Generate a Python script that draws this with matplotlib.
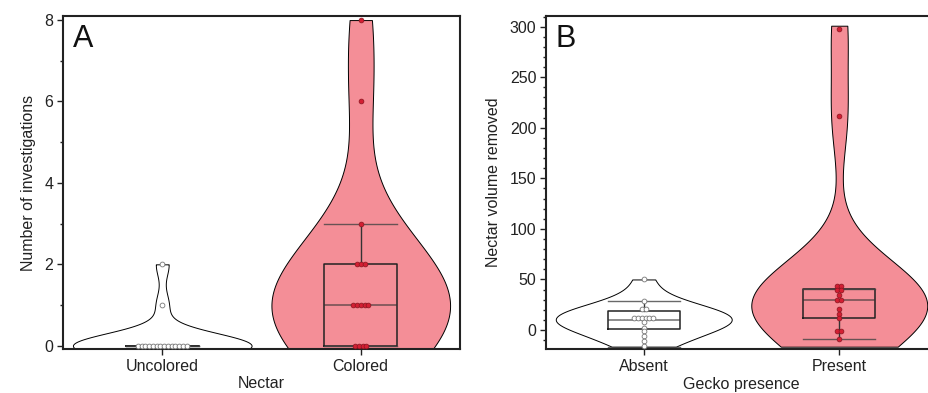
import numpy as np
import matplotlib.pyplot as plt
from matplotlib.ticker import MultipleLocator

plt.rcParams['font.family'] = ['Liberation Sans', 'DejaVu Sans']

# ---- data ----
# panel A: number of investigations
nectar_labels = ['Uncolored', 'Colored']
uncolored = [0] * 14 + [1, 2]
colored = [0, 0, 0, 0, 1, 1, 1, 1, 1, 2, 2, 2, 3, 6, 8]
# box stats (whislo, q1, med, q3, whishi)
box_a = [[0, 0, 0, 0, 0], [0, 0, 1, 2, 3]]
# violin extent (lo, hi)
range_a = [[-0.06, 2], [-0.06, 8]]

# panel B: nectar volume removed
gecko_labels = ['Absent', 'Present']
absent = [50, 29, 21, 21, 12, 12, 12, 12, 12, 12, 8, 2, -1, -6, -11, -16]
present = [298, 212, 44, 44, 40, 40, 35, 30, 30, 21, 16, 12, -1, -1, -9]
box_b = [[-16.5, 1, 10, 19, 28.5], [-9, 11.5, 30, 41, 41]]
range_b = [[-16.5, 50], [-16.5, 301]]

# kde bandwidth tweak per violin (multiplier on scott's rule)
bw_a = [1.0, 1.0]
bw_b = [1.35, 0.82]

pink = '#F48E97'
dot_red = '#D31F33'


def kde(vals, grid, adj):
    vals = np.asarray(vals, float)
    bw = adj * vals.std(ddof=1) * len(vals) ** (-1 / 5)
    z = (grid[:, None] - vals[None, :]) / bw
    return np.exp(-0.5 * z ** 2).sum(axis=1)


def swarm_x(vals, step):
    vals = np.asarray(vals, float)
    xs = np.zeros(len(vals))
    for v in np.unique(vals):
        idx = np.where(vals == v)[0]
        k = len(idx)
        xs[idx] = (np.arange(k) - (k - 1) / 2) * step
    return xs


def panel(ax, groups, labels, boxes, ranges, bws, fills, dot_style, step):
    for i, (vals, rng, adj, fc) in enumerate(zip(groups, ranges, bws, fills)):
        grid = np.linspace(rng[0], rng[1], 300)
        d = kde(vals, grid, adj)
        half = d / d.max() * 0.45
        ax.fill_betweenx(grid, i - half, i + half, facecolor=fc,
                         edgecolor='black', linewidth=0.7, zorder=1)
    stats = []
    for b in boxes:
        stats.append(dict(whislo=b[0], q1=b[1], med=b[2], q3=b[3], whishi=b[4], fliers=[]))
    ax.bxp(stats, positions=range(len(boxes)), widths=0.37, capwidths=0.37,
           showfliers=False, patch_artist=False,
           boxprops=dict(color='#222222', linewidth=1.1),
           medianprops=dict(color='#333333', alpha=0.7, linewidth=1.1),
           whiskerprops=dict(color='#333333', linewidth=1.0),
           capprops=dict(color='#444444', alpha=0.8, linewidth=1.0),
           manage_ticks=False, zorder=2)
    for i, vals in enumerate(groups):
        xs = swarm_x(vals, step) + i
        ax.scatter(xs, vals, s=12, zorder=3, **dot_style[i])
    ax.set_xlim(-0.5, 1.5)
    ax.set_xticks(range(len(labels)))
    ax.set_xticklabels(labels)
    for sp in ax.spines.values():
        sp.set_linewidth(1.5)
        sp.set_color('#222222')
    ax.tick_params(which='major', length=4, width=1, labelsize=11.5, colors='#222222', pad=3)
    ax.tick_params(which='minor', length=2.5, width=1, colors='#222222')
    ax.tick_params(axis='x', which='minor', length=0)


open_dot = dict(facecolor='white', edgecolor='#777777', linewidths=0.6)
red_dot = dict(facecolor=dot_red, edgecolor='#8A1520', linewidths=0.5)

fig = plt.figure(figsize=(9.29, 3.93), dpi=100)
ax1 = fig.add_axes([63 / 929, 44 / 393, 397 / 929, 333 / 393])
ax2 = fig.add_axes([546 / 929, 44 / 393, 391 / 929, 333 / 393])

panel(ax1, [uncolored, colored], nectar_labels, box_a, range_a, bw_a,
      ['white', pink], [open_dot, red_dot], 0.019)
ax1.set_ylim(-0.08, 8.1)
ax1.yaxis.set_major_locator(MultipleLocator(2))
ax1.yaxis.set_minor_locator(MultipleLocator(1))
ax1.set_xlabel('Nectar', fontsize=11.5, color='#222222', labelpad=2)
ax1.set_ylabel('Number of investigations', fontsize=11.5, color='#222222', labelpad=6)
ax1.text(0.025, 0.975, 'A', transform=ax1.transAxes, fontsize=22, va='top', ha='left', color='#111111')

panel(ax2, [absent, present], gecko_labels, box_b, range_b, bw_b,
      ['white', pink], [open_dot, red_dot], 0.019)
ax2.set_ylim(-18.8, 310.6)
ax2.yaxis.set_major_locator(MultipleLocator(50))
ax2.yaxis.set_minor_locator(MultipleLocator(10))
ax2.set_xlabel('Gecko presence', fontsize=11.5, color='#222222', labelpad=2)
ax2.set_ylabel('Nectar volume removed', fontsize=11.5, color='#222222', labelpad=6)
ax2.text(0.025, 0.975, 'B', transform=ax2.transAxes, fontsize=22, va='top', ha='left', color='#111111')

fig.savefig('out.png', dpi=100)
